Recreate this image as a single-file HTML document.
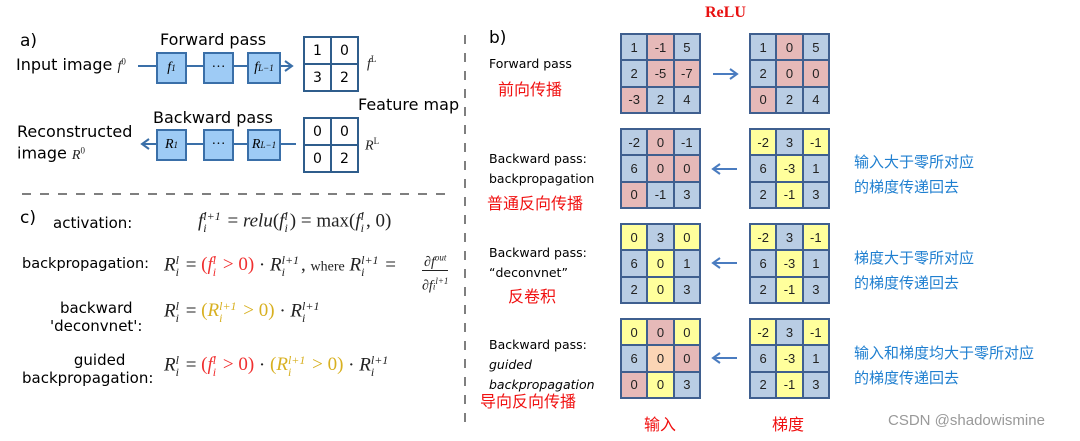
<!DOCTYPE html>
<html><head><meta charset="utf-8"><style>
body{margin:0;width:1080px;height:441px;background:#fff;position:relative;overflow:hidden;font-family:"DejaVu Sans","Liberation Sans",sans-serif;}
.a{position:absolute;white-space:nowrap;}
.g{position:absolute;width:77px;height:77px;background:#3f5f8f;padding:2px;display:grid;grid-template-columns:repeat(3,1fr);grid-template-rows:repeat(3,1fr);gap:2px;}
.g div{display:flex;align-items:center;justify-content:center;font-family:"Liberation Sans",sans-serif;font-size:13px;color:#222;}
.b{background:#b9cde4}.r{background:#e6b9b8}.y{background:#ffff9c}.o{background:#fbd5b5}
.zh{font-family:"Liberation Sans","Noto Sans CJK SC",sans-serif;}
.red{color:#f01010}.blue{color:#1f7fd0}
.m{font-family:"Liberation Serif",serif;font-size:19px;color:#222;}
.m i{font-style:italic}
.R{color:#f03030}.Y{color:#d8b020}
.ss{display:inline-flex;flex-direction:column;vertical-align:middle;font-size:12px;line-height:12px;margin-right:2px;font-style:italic}
.bx{position:absolute;width:27px;height:28px;background:#9ecbf5;border:2px solid #3a6fa8;display:flex;align-items:center;justify-content:center;font-family:"Liberation Serif",serif;font-style:italic;font-size:14px;}
.bx sup{font-size:9px}
.fm{position:absolute;width:52px;height:52px;border:2px solid #2f5d8c;display:grid;grid-template-columns:1fr 1fr;background:#2f5d8c;gap:2px;}
.fm div{background:#fff;display:flex;align-items:center;justify-content:center;font-size:14px;}
</style></head><body>
<svg class="a" style="left:0;top:0" width="1080" height="441">
<line x1="465" y1="35" x2="465" y2="425" stroke="#555" stroke-width="1.5" stroke-dasharray="9,9"/>
<line x1="22" y1="194" x2="448" y2="194" stroke="#555" stroke-width="1.5" stroke-dasharray="9,9"/>
<line x1="138" y1="66" x2="292" y2="66" stroke="#3a6fa8" stroke-width="2"/>
<polyline points="285,61 292,66 285,71" fill="none" stroke="#3a6fa8" stroke-width="2"/>
<line x1="142" y1="144" x2="296" y2="144" stroke="#3a6fa8" stroke-width="2"/>
<polyline points="149,139 142,144 149,149" fill="none" stroke="#3a6fa8" stroke-width="2"/>
<line x1="713" y1="74" x2="736" y2="74" stroke="#4a7cc0" stroke-width="2"/>
<polyline points="730,69 737,74 730,79" fill="none" stroke="#4a7cc0" stroke-width="2"/>
<g stroke="#4a7cc0" stroke-width="2" fill="none">
<line x1="713" y1="169" x2="737" y2="169"/><polyline points="720,164 713,169 720,174"/>
<line x1="713" y1="263" x2="737" y2="263"/><polyline points="720,258 713,263 720,268"/>
<line x1="713" y1="358" x2="737" y2="358"/><polyline points="720,353 713,358 720,363"/>
</g>
</svg>
<div class="a" style="left:20px;top:31px;font-size:17px">a)</div>
<div class="a" style="left:160px;top:30px;font-size:16px">Forward pass</div>
<div class="a" style="left:16px;top:55px;font-size:16px">Input image <span class="m" style="font-size:14px"><i>f</i><sup style="font-size:9px">0</sup></span></div>
<div class="bx" style="left:156px;top:52px">f<sup>1</sup></div>
<div class="bx" style="left:203px;top:52px;font-style:normal">···</div>
<div class="bx" style="left:247px;top:52px;width:30px">f<sup>L−1</sup></div>
<div class="fm" style="left:303px;top:36px"><div>1</div><div>0</div><div>3</div><div>2</div></div>
<div class="a m" style="left:367px;top:54px;font-size:14px"><i>f</i><sup style="font-size:9px">L</sup></div>
<div class="a" style="left:358px;top:95px;font-size:16px">Feature map</div>
<div class="a" style="left:153px;top:108px;font-size:16px">Backward pass</div>
<div class="a" style="left:17px;top:122px;font-size:16px;line-height:19px">Reconstructed<br>image <span class="m" style="font-size:14px"><i>R</i><sup style="font-size:9px">0</sup></span></div>
<div class="bx" style="left:156px;top:129px">R<sup>1</sup></div>
<div class="bx" style="left:203px;top:129px;font-style:normal">···</div>
<div class="bx" style="left:247px;top:129px;width:30px">R<sup>L−1</sup></div>
<div class="fm" style="left:303px;top:117px"><div>0</div><div>0</div><div>0</div><div>2</div></div>
<div class="a m" style="left:365px;top:136px;font-size:14px"><i>R</i><sup style="font-size:9px">L</sup></div>

<div class="a" style="left:20px;top:208px;font-size:17px">c)</div>
<div class="a" style="left:53px;top:214px;font-size:15px">activation:</div>
<div class="a m" style="left:198px;top:210px"><i>f</i><span class="ss"><span>l+1</span><span>i</span></span> = <i>relu</i>(<i>f</i><span class="ss"><span>l</span><span>i</span></span>) = max(<i>f</i><span class="ss"><span>l</span><span>i</span></span>, 0)</div>
<div class="a" style="left:22px;top:256px;font-size:14.5px">backpropagation:</div>
<div class="a m" style="left:164px;top:254px"><i>R</i><span class="ss"><span>l</span><span>i</span></span> = <span class="R">(<i>f</i><span class="ss"><span>l</span><span>i</span></span> &gt; 0)</span> · <i>R</i><span class="ss"><span>l+1</span><span>i</span></span>, <span style="font-size:14px">where</span> <i>R</i><span class="ss"><span>l+1</span><span>i</span></span> =</div>
<div class="a m" style="left:422px;top:248px;font-size:14px;text-align:center;line-height:18px"><span style="border-bottom:1px solid #222;padding:0 2px">∂<i>f</i><sup style="font-size:9px"><i>out</i></sup></span><br>∂<i>f</i><span style="font-size:9px"><i>i</i></span><sup style="font-size:9px"><i>l+1</i></sup></div>
<div class="a" style="left:50px;top:299px;font-size:15px;line-height:18px;text-align:center">backward<br>'deconvnet':</div>
<div class="a m" style="left:164px;top:300px"><i>R</i><span class="ss"><span>l</span><span>i</span></span> = <span class="Y">(<i>R</i><span class="ss"><span>l+1</span><span>i</span></span> &gt; 0)</span> · <i>R</i><span class="ss"><span>l+1</span><span>i</span></span></div>
<div class="a" style="left:22px;top:351px;font-size:15px;line-height:18px;text-align:center">&nbsp;&nbsp;&nbsp;&nbsp;&nbsp;guided<br>backpropagation:</div>
<div class="a m" style="left:164px;top:354px"><i>R</i><span class="ss"><span>l</span><span>i</span></span> = <span class="R">(<i>f</i><span class="ss"><span>l</span><span>i</span></span> &gt; 0)</span> · <span class="Y">(<i>R</i><span class="ss"><span>l+1</span><span>i</span></span> &gt; 0)</span> · <i>R</i><span class="ss"><span>l+1</span><span>i</span></span></div>

<div class="a" style="left:489px;top:28px;font-size:17px">b)</div>
<div class="a" style="left:705px;top:4px;font-family:'Liberation Serif',serif;font-weight:bold;font-size:16px;color:#e81010">ReLU</div>
<div class="a" style="left:489px;top:56px;font-size:12.5px">Forward pass</div>
<div class="a zh red" style="left:498px;top:76px;font-size:16px">前向传播</div>
<div class="a" style="left:489px;top:149px;font-size:12.5px;line-height:20px">Backward pass:<br>backpropagation</div>
<div class="a zh red" style="left:487px;top:190px;font-size:16px">普通反向传播</div>
<div class="a" style="left:489px;top:243px;font-size:12.5px;line-height:20px">Backward pass:<br>“deconvnet”</div>
<div class="a zh red" style="left:508px;top:283px;font-size:16px">反卷积</div>
<div class="a" style="left:489px;top:335px;font-size:12.5px;line-height:20px">Backward pass:<br><i>guided<br>backpropagation</i></div>
<div class="a zh red" style="left:480px;top:388px;font-size:16px">导向反向传播</div>
<div class="a zh red" style="left:644px;top:411px;font-size:16px">输入</div>
<div class="a zh red" style="left:772px;top:411px;font-size:16px">梯度</div>

<div class="g" style="left:620px;top:33px"><div class="b">1</div><div class="r">-1</div><div class="b">5</div><div class="b">2</div><div class="r">-5</div><div class="r">-7</div><div class="r">-3</div><div class="b">2</div><div class="b">4</div></div>
<div class="g" style="left:749px;top:33px"><div class="b">1</div><div class="r">0</div><div class="b">5</div><div class="b">2</div><div class="r">0</div><div class="r">0</div><div class="r">0</div><div class="b">2</div><div class="b">4</div></div>
<div class="g" style="left:620px;top:128px"><div class="b">-2</div><div class="r">0</div><div class="b">-1</div><div class="b">6</div><div class="r">0</div><div class="r">0</div><div class="r">0</div><div class="b">-1</div><div class="b">3</div></div>
<div class="g" style="left:749px;top:128px"><div class="y">-2</div><div class="b">3</div><div class="y">-1</div><div class="b">6</div><div class="y">-3</div><div class="b">1</div><div class="b">2</div><div class="y">-1</div><div class="b">3</div></div>
<div class="g" style="left:620px;top:223px"><div class="y">0</div><div class="b">3</div><div class="y">0</div><div class="b">6</div><div class="y">0</div><div class="b">1</div><div class="b">2</div><div class="y">0</div><div class="b">3</div></div>
<div class="g" style="left:749px;top:223px"><div class="y">-2</div><div class="b">3</div><div class="y">-1</div><div class="b">6</div><div class="y">-3</div><div class="b">1</div><div class="b">2</div><div class="y">-1</div><div class="b">3</div></div>
<div class="g" style="left:620px;top:318px"><div class="y">0</div><div class="r">0</div><div class="y">0</div><div class="b">6</div><div class="o">0</div><div class="r">0</div><div class="r">0</div><div class="y">0</div><div class="b">3</div></div>
<div class="g" style="left:749px;top:318px"><div class="y">-2</div><div class="b">3</div><div class="y">-1</div><div class="b">6</div><div class="y">-3</div><div class="b">1</div><div class="b">2</div><div class="y">-1</div><div class="b">3</div></div>

<div class="a zh blue" style="left:854px;top:150px;font-size:15px;line-height:25px">输入大于零所对应<br>的梯度传递回去</div>
<div class="a zh blue" style="left:854px;top:246px;font-size:15px;line-height:25px">梯度大于零所对应<br>的梯度传递回去</div>
<div class="a zh blue" style="left:854px;top:341px;font-size:15px;line-height:25px">输入和梯度均大于零所对应<br>的梯度传递回去</div>
<div class="a" style="left:888px;top:412px;font-family:'Liberation Sans',sans-serif;font-size:15px;color:#999">CSDN @shadowismine</div>
</body></html>
